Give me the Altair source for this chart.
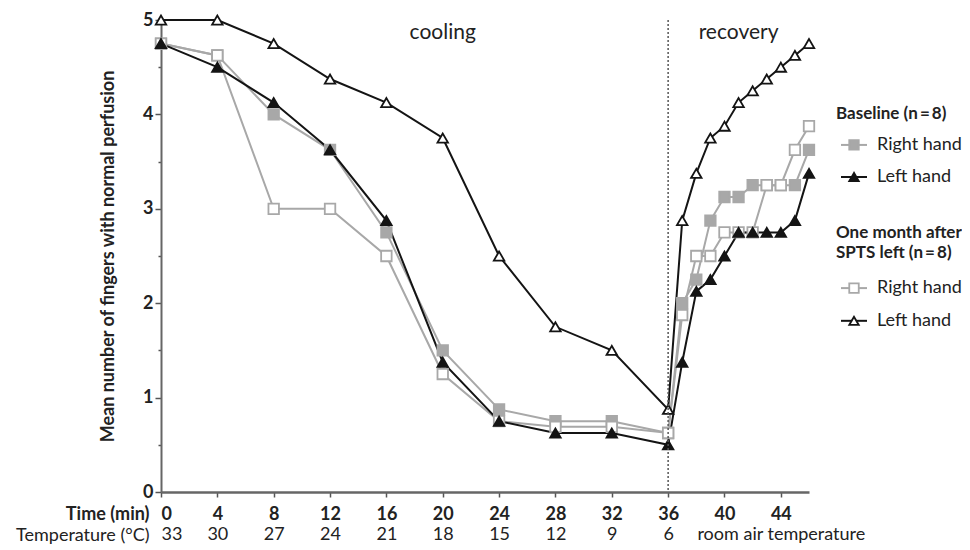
import altair as alt
import pandas as pd

# ---------------- data ----------------
time_min = [0, 4, 8, 12, 16, 20, 24, 28, 32, 36, 37, 38, 39, 40, 41, 42, 43, 44, 45, 46]
baseline_right = [4.75, 4.625, 4.0, 3.625, 2.75, 1.5, 0.875, 0.75, 0.75, 0.625,
                  2.0, 2.25, 2.875, 3.125, 3.125, 3.25, 3.25, 3.25, 3.25, 3.625]
month_right = [4.75, 4.625, 3.0, 3.0, 2.5, 1.25, 0.75, 0.69, 0.69, 0.625,
               1.875, 2.5, 2.5, 2.75, 2.75, 2.75, 3.25, 3.25, 3.625, 3.875]
baseline_left = [4.75, 4.5, 4.125, 3.625, 2.875, 1.375, 0.75, 0.625, 0.625, 0.5,
                 1.375, 2.125, 2.25, 2.5, 2.75, 2.75, 2.75, 2.75, 2.875, 3.375]
month_left = [5.0, 5.0, 4.75, 4.375, 4.125, 3.75, 2.5, 1.75, 1.5, 0.875,
              2.875, 3.375, 3.75, 3.875, 4.125, 4.25, 4.375, 4.5, 4.625, 4.75]

series_names = ["Baseline right", "One month right", "Baseline left", "One month left"]
series_values = [baseline_right, month_right, baseline_left, month_left]

time_ticks = [0, 4, 8, 12, 16, 20, 24, 28, 32, 36, 40, 44]
temp_ticks = [0, 4, 8, 12, 16, 20, 24, 28, 32, 36, 44]
temp_labels = ["33", "30", "27", "24", "21", "18", "15", "12", "9", "6", "room air temperature"]

phase_labels = ["cooling", "recovery"]
phase_time = [20, 41]
phase_value = [4.86, 4.86]

legend_texts = ["Baseline (n\u2009=\u20098)", "Right hand", "Left hand",
                "One month after", "SPTS left (n\u2009=\u20098)", "Right hand", "Left hand"]
legend_kind = ["head", "entry", "entry", "head", "head", "entry", "entry"]
legend_series = [None, "Baseline right", "Baseline left", None, None,
                 "One month right", "One month left"]

# ---------------- styles ----------------
GREY = "#a8a8a8"
BLACK = "#141414"
line_colors = [GREY, GREY, BLACK, BLACK]
marker_shapes = ["square", "square", "triangle-up", "triangle-up"]
marker_fills = [GREY, "#ffffff", BLACK, "#ffffff"]
FONT = "Lato"
TXT = "#222222"
FS = 18

rows = []
for name, vals in zip(series_names, series_values):
    for t, v in zip(time_min, vals):
        rows.append({"series": name, "time": t, "value": v})
df = pd.DataFrame(rows)

x_scale = alt.Scale(domain=[0, 46], nice=False, zero=False)
y_scale = alt.Scale(domain=[0, 5], nice=False)

time_axis = alt.Axis(
    values=time_ticks, title="Time (min)", grid=False,
    labelFont=FONT, labelFontSize=FS, labelFontWeight="bold", labelColor=TXT,
    labelPadding=8, tickSize=5, tickColor="#555555", tickWidth=1.5,
    domainColor="#666666", domainWidth=2.5,
    titleFont=FONT, titleFontSize=FS, titleFontWeight="bold", titleColor=TXT,
    titleAngle=0, titleAlign="right", titleBaseline="middle", titleX=-12, titleY=22,
)

y_vals = [i * 0.5 for i in range(11)]
y_axis = alt.Axis(
    values=y_vals, grid=False,
    labelExpr="datum.value % 1 == 0 ? format(datum.value, 'd') : ''",
    labelFont=FONT, labelFontSize=FS, labelFontWeight="bold", labelColor=TXT,
    labelPadding=2,
    tickSize={"condition": {"test": "datum.value % 1 != 0", "value": 3}, "value": 6},
    tickColor="#555555", tickWidth=1.5,
    domainColor="#666666", domainWidth=2,
    title="Mean number of fingers with normal perfusion",
    titleFont=FONT, titleFontSize=18, titleFontWeight="bold", titleColor=TXT,
    titlePadding=25,
)

X = alt.X("time:Q", scale=x_scale, axis=time_axis)
Y = alt.Y("value:Q", scale=y_scale, axis=y_axis)

lines = alt.Chart(df).mark_line(strokeWidth=2).encode(
    x=X, y=Y,
    color=alt.Color("series:N", scale=alt.Scale(domain=series_names, range=line_colors), legend=None),
)

points = alt.Chart(df).mark_point(filled=True, size=110, strokeWidth=1.8, opacity=1).encode(
    x=X, y=Y,
    shape=alt.Shape("series:N", scale=alt.Scale(domain=series_names, range=marker_shapes), legend=None),
    fill=alt.Fill("series:N", scale=alt.Scale(domain=series_names, range=marker_fills), legend=None),
    stroke=alt.Stroke("series:N", scale=alt.Scale(domain=series_names, range=line_colors), legend=None),
)

ann_df = pd.DataFrame({"label": phase_labels, "time": phase_time, "value": phase_value})
ann = alt.Chart(ann_df).mark_text(font=FONT, fontSize=21, color=TXT).encode(
    x=X, y=Y, text="label:N"
)

layer_a = alt.layer(lines, points, ann)

temp_expr = "[" + ",".join("'" + s + "'" for s in temp_labels) + "][indexof([" + \
    ",".join(str(v) for v in temp_ticks) + "], datum.value)]"
temp_axis = alt.Axis(
    orient="bottom", values=temp_ticks, labelExpr=temp_expr, grid=False,
    domain=False, ticks=False, labelPadding=33,
    labelFont=FONT, labelFontSize=FS, labelFontWeight="normal", labelColor=TXT,
    title="Temperature (\u00b0C)", titleFont=FONT, titleFontSize=FS, titleFontWeight="normal",
    titleColor=TXT, titleAngle=0, titleAlign="right", titleBaseline="middle",
    titleX=-12, titleY=43,
)

split_df = pd.DataFrame({"time": [36]})
split_rule = alt.Chart(split_df).mark_rule(color="#555555", strokeWidth=1.5, strokeDash=[2, 2]).encode(
    x=alt.X("time:Q", scale=x_scale, axis=temp_axis)
)

main = alt.layer(layer_a, split_rule).resolve_axis(x="independent").properties(width=648, height=472)

# ---------------- legend panel ----------------
legend_rows = [2.99, 3.97, 4.99, 6.77, 7.40, 8.52, 9.56]
leg_df = pd.DataFrame({
    "text": legend_texts, "kind": legend_kind, "series": legend_series, "row": legend_rows,
})
leg_df["tx"] = [27 if k == "head" else 68 for k in legend_kind]
leg_df["sx"] = 45
leg_df["lx1"] = 32
leg_df["lx2"] = 58

LX = alt.Scale(domain=[0, 152], nice=False)
LY = alt.Scale(domain=[0, 15], reverse=True, nice=False)

leg_head = alt.Chart(leg_df).transform_filter("datum.kind == 'head'").mark_text(
    font=FONT, fontSize=17, fontWeight="bold", align="left", color=TXT
).encode(x=alt.X("tx:Q", scale=LX, axis=None), y=alt.Y("row:Q", scale=LY, axis=None), text="text:N")

leg_entry = alt.Chart(leg_df).transform_filter("datum.kind == 'entry'").mark_text(
    font=FONT, fontSize=18, align="left", color=TXT
).encode(x=alt.X("tx:Q", scale=LX, axis=None), y=alt.Y("row:Q", scale=LY, axis=None), text="text:N")

leg_line = alt.Chart(leg_df).transform_filter("datum.kind == 'entry'").mark_rule(strokeWidth=2).encode(
    x=alt.X("lx1:Q", scale=LX, axis=None), x2="lx2:Q",
    y=alt.Y("row:Q", scale=LY, axis=None),
    color=alt.Color("series:N", scale=alt.Scale(domain=series_names, range=line_colors), legend=None),
)

leg_sym = alt.Chart(leg_df).transform_filter("datum.kind == 'entry'").mark_point(
    filled=True, size=90, strokeWidth=1.8, opacity=1
).encode(
    x=alt.X("sx:Q", scale=LX, axis=None), y=alt.Y("row:Q", scale=LY, axis=None),
    shape=alt.Shape("series:N", scale=alt.Scale(domain=series_names, range=marker_shapes), legend=None),
    fill=alt.Fill("series:N", scale=alt.Scale(domain=series_names, range=marker_fills), legend=None),
    stroke=alt.Stroke("series:N", scale=alt.Scale(domain=series_names, range=line_colors), legend=None),
)

legend = alt.layer(leg_line, leg_sym, leg_head, leg_entry).properties(width=152, height=472)

chart = alt.hconcat(main, legend, spacing=0, bounds="flush").properties(
    padding={"left": 7, "top": 3, "right": 0, "bottom": 0},
    background="white",
).configure_view(stroke=None)

chart.save("out.html", embed_options={"renderer": "svg", "actions": False})
